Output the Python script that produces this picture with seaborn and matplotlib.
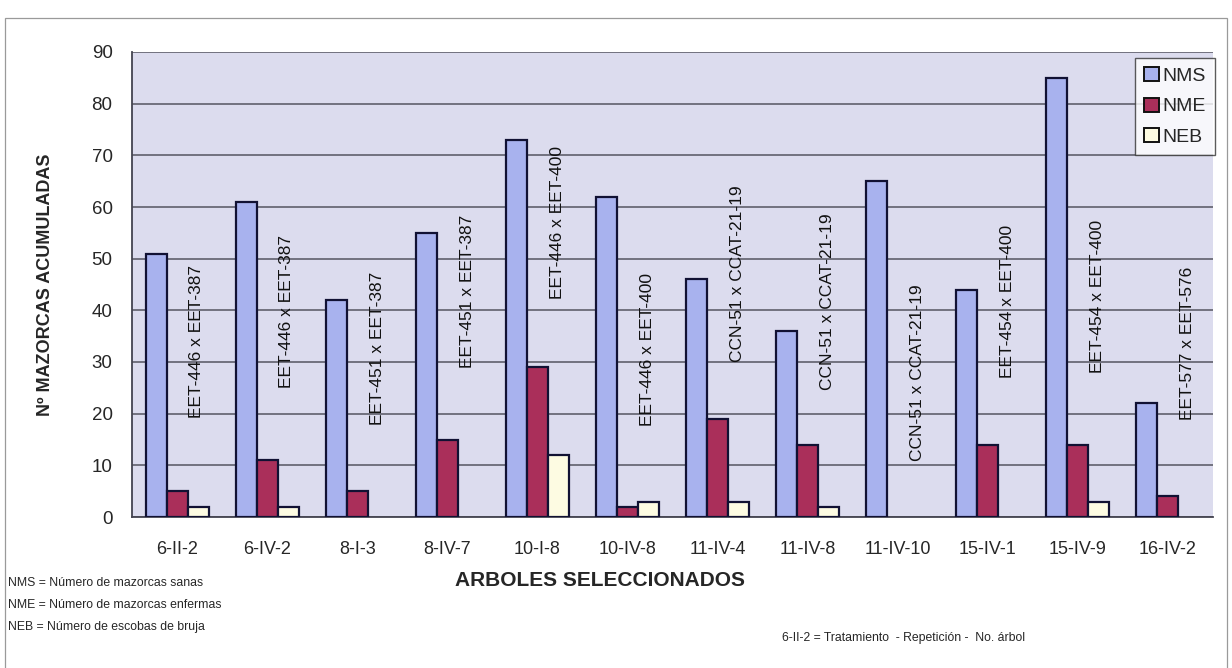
import numpy as np
import pandas as pd
import matplotlib
matplotlib.use("Agg")
from matplotlib import pyplot as plt
from matplotlib.patches import Rectangle
import seaborn as sns

sns.set_style("white")
plt.rcParams['font.family'] = ['Liberation Sans', 'DejaVu Sans']

# data
arboles = ["6-II-2", "6-IV-2", "8-I-3", "8-IV-7", "10-I-8", "10-IV-8",
           "11-IV-4", "11-IV-8", "11-IV-10", "15-IV-1", "15-IV-9", "16-IV-2"]
nms = [51, 61, 42, 55, 73, 62, 46, 36, 65, 44, 85, 22]
nme = [5, 11, 5, 15, 29, 2, 19, 14, 0, 14, 14, 4]
neb = [2, 2, 0, 0, 12, 3, 3, 2, 0, 0, 3, 0]

cruces = ["EET-446 x EET-387", "EET-446 x EET-387", "EET-451 x EET-387",
          "EET-451 x EET-387", "EET-446 x EET-400", "EET-446 x EET-400",
          "CCN-51 x CCAT-21-19", "CCN-51 x CCAT-21-19", "CCN-51 x CCAT-21-19",
          "EET-454 x EET-400", "EET-454 x EET-400", "EET-577 x EET-576"]
cruce_y = [34, 39.7, 32.7, 43.6, 57, 32.5, 47, 41.6, 28, 41.8, 42.6, 33.7]

series = ["NMS", "NME", "NEB"]
palette = {"NMS": "#a8b2ee", "NME": "#aa2f5a", "NEB": "#fdfbe2"}

df = pd.DataFrame({"Arbol": arboles * 3,
                   "Serie": ["NMS"] * 12 + ["NME"] * 12 + ["NEB"] * 12,
                   "Valor": nms + nme + neb})

fig = plt.figure(figsize=(12.32, 6.68), dpi=100)
ax = fig.add_axes([132 / 1232, 1 - 517 / 668, 1081 / 1232, 465 / 668])
ax.set_facecolor("#dcdcee")

sns.barplot(data=df, x="Arbol", y="Valor", hue="Serie", hue_order=series,
            palette=palette, width=0.7, edgecolor="#111133", linewidth=1.6,
            saturation=1, ax=ax, zorder=3)

# empty bars are not drawn in the original
for p in ax.patches:
    if p.get_height() == 0:
        p.set_linewidth(0)

ax.set_ylim(0, 90)
ax.set_xlim(-0.5, 11.5)
ax.set_yticks(range(0, 91, 10))
ax.yaxis.grid(True, color="#555560", linewidth=1.1, zorder=0)
ax.set_axisbelow(True)

for s in ["top", "right"]:
    ax.spines[s].set_visible(False)
for s in ["left", "bottom"]:
    ax.spines[s].set_color("#444450")
    ax.spines[s].set_linewidth(1.3)

ax.tick_params(axis="y", length=5, width=1, color="#444450", pad=9,
               labelsize=13.5)
ax.tick_params(axis="x", which="major", length=0, pad=17, labelsize=13)
ax.set_xticks(np.arange(-0.5, 12, 1), minor=True)
ax.tick_params(axis="x", which="minor", length=5, width=1, color="#444450")

ax.set_xlabel("")
ax.set_ylabel("Nº MAZORCAS ACUMULADAS", fontsize=13, fontweight="bold")
ax.yaxis.set_label_coords(-0.072, 0.5)

for i, (txt, yy) in enumerate(zip(cruces, cruce_y)):
    ax.text(i + 0.22, yy, txt, rotation=90, ha="center", va="center",
            fontsize=12.5, color="#111111", zorder=5)

leg = ax.legend(loc="upper right", bbox_to_anchor=(1.005, 0.995), fontsize=14,
                frameon=True, fancybox=False, edgecolor="#333333",
                handlelength=0.75, handleheight=0.75, handletextpad=0.2,
                labelspacing=0.65, borderpad=0.45, borderaxespad=0.2)
leg.get_frame().set_linewidth(1.0)
for h in leg.legend_handles:
    h.set_edgecolor("#111111")
    h.set_linewidth(1.4)

fig.text(600 / 1232, 1 - 580 / 668, "ARBOLES SELECCIONADOS", ha="center",
         va="center", fontsize=15, fontweight="bold")

notas = ["NMS = Número de mazorcas sanas",
         "NME = Número de mazorcas enfermas",
         "NEB = Número de escobas de bruja"]
for k, nota in enumerate(notas):
    fig.text(8 / 1232, 1 - (583 + 22 * k) / 668, nota, ha="left",
             va="center", fontsize=8.8,
             family=["Liberation Sans Narrow", "Liberation Sans"])
fig.text(782 / 1232, 1 - 638 / 668,
         "6-II-2 = Tratamiento  - Repetición -  No. árbol", ha="left",
         va="center", fontsize=8.8,
         family=["Liberation Sans Narrow", "Liberation Sans"])

fig.patches.append(Rectangle((5 / 1232, -0.01), 1222 / 1232, 1 - 18 / 668 + 0.01,
                             transform=fig.transFigure, fill=False,
                             edgecolor="#9a9a9a", linewidth=0.9))

plt.savefig("out.png", dpi=100)
